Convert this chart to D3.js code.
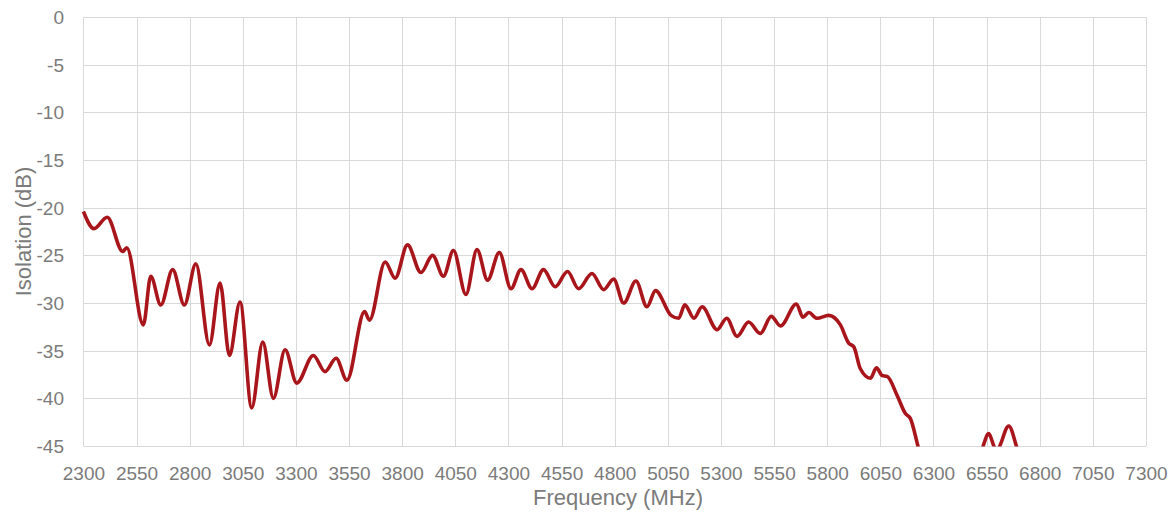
<!DOCTYPE html>
<html>
<head>
<meta charset="utf-8">
<script src="https://cdn.jsdelivr.net/npm/d3@7"></script>
<style>
  html, body { margin: 0; padding: 0; background: #ffffff; }
  svg { display: block; }
</style>
</head>
<body>
<svg id="chart" width="1176" height="516"></svg>
<script>
// Frequency (MHz) of read points
const frequency = [
  2300, 2350, 2412, 2485, 2504, 2582, 2617, 2664, 2720, 2775, 2829, 2893, 2943, 2987, 3037,
  3092, 3144, 3194, 3249, 3304, 3382, 3437, 3489, 3540, 3623, 3646, 3720, 3767, 3825, 3888,
  3943, 3994, 4041, 4100, 4152, 4202, 4257, 4312, 4359, 4411, 4465, 4520, 4578, 4630, 4693,
  4748, 4795, 4842, 4900, 4952, 4992, 5065, 5101, 5130, 5173, 5211, 5282, 5327, 5376, 5430,
  5485, 5537, 5580, 5655, 5686, 5713, 5752, 5807, 5862, 5901, 5925, 5956, 6003, 6032, 6058,
  6082, 6129, 6168, 6191, 6228, 6270, 6400, 6510, 6534, 6560, 6584, 6598, 6612, 6654, 6690,
  6730, 6800
];
// Isolation (dB)
const isolation = [
  -20.4, -22.2, -21.0, -24.6, -24.2, -32.3, -27.2, -30.2, -26.5, -30.2, -25.9, -34.4, -27.9, -35.5, -29.9,
  -41.0, -34.1, -40.0, -34.9, -38.4, -35.5, -37.2, -35.8, -38.1, -30.9, -31.8, -25.7, -27.4, -23.9, -26.8,
  -25.0, -27.2, -24.5, -29.1, -24.4, -27.6, -24.7, -28.5, -26.5, -28.5, -26.5, -28.3, -26.7, -28.5, -26.9,
  -28.6, -27.5, -30.0, -27.7, -30.4, -28.7, -31.3, -31.6, -30.2, -31.6, -30.4, -32.8, -31.6, -33.5, -32.0,
  -33.2, -31.4, -32.4, -30.1, -31.5, -31.0, -31.6, -31.3, -32.3, -34.2, -34.6, -36.9, -37.9, -36.8, -37.6,
  -37.7, -39.7, -41.6, -42.1, -45.1, -48.5, -51.0, -47.0, -45.0, -43.7, -45.0, -45.6, -45.0, -42.9, -45.0,
  -48.5, -52.0
];
const xTicks = [2300, 2550, 2800, 3050, 3300, 3550, 3800, 4050, 4300, 4550, 4800, 5050, 5300, 5550, 5800, 6050, 6300, 6550, 6800, 7050, 7300];
const yTicks = [0, -5, -10, -15, -20, -25, -30, -35, -40, -45];
const xTitle = "Frequency (MHz)";
const yTitle = "Isolation (dB)";

(function () {
const data = frequency.map((f, i) => ({ f, v: isolation[i] }));

const svg = d3.select("#chart");
const pl = 83.4, pr = 1146, pt = 17, pb = 446;

const x = d3.scaleLinear().domain([2300, 7300]).range([pl, pr]);
const y = d3.scaleLinear().domain([-45, 0]).range([pb, pt]);

const textColor = "#7b7b7b";
const gridColor = "#d9d9d9";
const font = "'Liberation Sans', Arial, sans-serif";

// gridlines
const grid = svg.append("g");
grid.selectAll("line.h").data(yTicks).join("line")
  .attr("x1", pl).attr("x2", pr)
  .attr("y1", d => Math.round(y(d)) + 0.5).attr("y2", d => Math.round(y(d)) + 0.5)
  .attr("stroke", gridColor).attr("stroke-width", 1);
grid.selectAll("line.v").data(xTicks).join("line")
  .attr("y1", pt).attr("y2", pb)
  .attr("x1", d => Math.round(x(d)) + 0.5).attr("x2", d => Math.round(x(d)) + 0.5)
  .attr("stroke", gridColor).attr("stroke-width", 1);

// axes (labels only)
const fmt = d => String(d);
const xAxis = d3.axisBottom(x).tickValues(xTicks).tickSize(0).tickPadding(0).tickFormat(fmt);
const gx = svg.append("g").attr("transform", `translate(0,466)`).call(xAxis);
gx.select(".domain").remove();
gx.selectAll("text").attr("fill", textColor).style("font-family", font).style("font-size", "19px").attr("dy", "0.71em");

const yAxis = d3.axisLeft(y).tickValues(yTicks).tickSize(0).tickPadding(0).tickFormat(fmt);
const gy = svg.append("g").attr("transform", `translate(64,0)`).call(yAxis);
gy.select(".domain").remove();
gy.selectAll("text").attr("fill", textColor).style("font-family", font).style("font-size", "19px").attr("dy", "0.35em");

// titles
svg.append("text")
  .attr("x", 618).attr("y", 505)
  .attr("text-anchor", "middle")
  .attr("fill", textColor)
  .style("font-family", font).style("font-size", "22px")
  .text(xTitle);
svg.append("text")
  .attr("transform", `translate(31,${(pt + pb) / 2}) rotate(-90)`)
  .attr("text-anchor", "middle")
  .attr("fill", textColor)
  .style("font-family", font).style("font-size", "22px")
  .text(yTitle);

// clip
svg.append("defs").append("clipPath").attr("id", "plotclip")
  .append("rect").attr("x", pl - 3).attr("y", 0).attr("width", pr - pl + 6).attr("height", pb + 0.5);

const line = d3.line()
  .x(d => x(d.f))
  .y(d => y(d.v))
  .curve(d3.curveMonotoneX);

svg.append("path")
  .datum(data)
  .attr("clip-path", "url(#plotclip)")
  .attr("fill", "none")
  .attr("stroke", "#A8161C")
  .attr("stroke-width", 3.6)
  .attr("stroke-linejoin", "round")
  .attr("stroke-linecap", "butt")
  .attr("d", line);
})();
</script>
</body>
</html>
